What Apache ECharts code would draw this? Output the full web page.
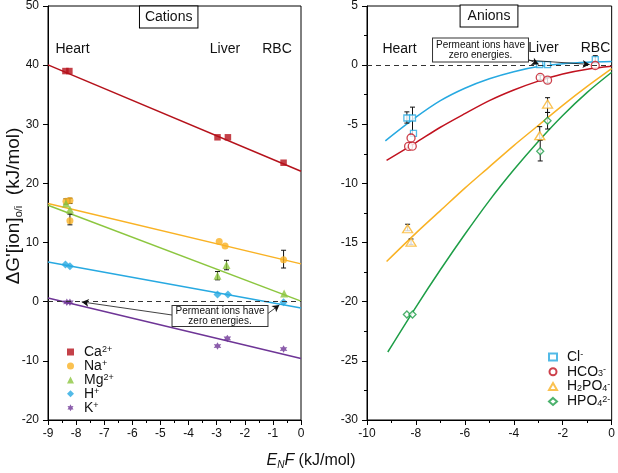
<!DOCTYPE html>
<html><head><meta charset="utf-8">
<script src="https://cdn.jsdelivr.net/npm/echarts@6/dist/echarts.min.js"></script>
<style>html,body{margin:0;padding:0;background:#fff}#c{width:618px;height:473px}</style>
</head><body><div id="c"></div>
<script>
// ---------- Cations (left panel) ----------
const caPts = [[-8.38,39.0],[-8.24,39.0],[-2.97,27.8],[-2.6,27.8],[-0.62,23.5]];
const naPts = [[-8.36,17.0],[-8.22,17.1],[-8.22,13.7],[-2.91,10.2],[-2.70,9.4],[-0.62,7.1]];
const mgPts = [[-8.36,16.6],[-8.22,15.6],[-2.97,4.4],[-2.65,6.2],[-0.6,1.4]];
const hPts  = [[-8.38,6.3],[-8.22,6.0],[-2.97,1.2],[-2.6,1.2],[-0.62,-0.1]];
const kPts  = [[-8.33,-0.1],[-8.22,-0.1],[-2.97,-7.5],[-2.62,-6.2],[-0.62,-8.0]];
const caFit = [[-9,40.05],[0,22.06]];
const naFit = [[-9,16.6],[0,6.4]];
const mgFit = [[-9,16.3],[0,0.1]];
const hFit  = [[-9,6.7],[0,-1.05]];
const kFit  = [[-9,0.64],[0,-9.6]];
const cationErr = [[-8.36,16.5,17.4],[-8.22,16.6,17.5],[-8.22,13.0,14.8],[-2.97,3.7,5.1],[-2.65,5.4,7.0],[-0.62,5.7,8.7]];
const cationArrows = [[[-4.54,-2.28],[-7.80,-0.03]],[[-1.18,-2.0],[-0.77,-0.55]]];
// ---------- Anions (right panel) ----------
const clPts    = [[-8.37,-4.47],[-8.14,-4.47],[-8.1,-5.77],[-2.94,0.05],[-2.62,0.05],[-0.67,0.47]];
const hco3Pts  = [[-8.3,-6.87],[-8.15,-6.85],[-8.2,-6.16],[-2.92,-1.04],[-2.62,-1.27],[-0.67,-0.03]];
const h2po4Pts = [[-8.34,-13.83],[-8.2,-14.96],[-2.94,-5.96],[-2.62,-3.29]];
const hpo4Pts  = [[-8.37,-21.08],[-8.14,-21.08],[-2.92,-7.28],[-2.62,-4.70]];
const clFit    = [[-9.25,-6.4],[-8,-4.4],[-7,-3.0],[-6,-1.95],[-5,-1.15],[-4,-0.55],[-3,-0.12],[-2,0.12],[-1,0.25],[0,0.3]];
const hco3Fit  = [[-9.2,-8.05],[-8,-6.55],[-7,-5.25],[-6,-4.1],[-5,-3.0],[-4,-2.1],[-3,-1.35],[-2,-0.75],[-1,-0.35],[0,-0.1]];
const h2po4Fit = [[-9.2,-16.6],[-8,-14.2],[-7,-12.3],[-6,-10.4],[-5,-8.6],[-4,-6.8],[-3,-5.1],[-2,-3.4],[-1,-1.8],[0,-0.3]];
const hpo4Fit  = [[-9.15,-24.25],[-8,-20.45],[-7,-17.3],[-6,-14.3],[-5,-11.45],[-4,-8.85],[-3,-6.45],[-2,-4.25],[-1,-2.3],[0,-0.6]];
const anionErr = [[-8.37,-4.9,-3.95],[-8.14,-6.0,-3.55],[-8.34,-14.0,-13.45],[-8.2,-15.15,-14.7],[-2.94,-6.3,-5.2],[-2.62,-4.0,-2.75],[-2.92,-8.1,-6.35],[-2.62,-5.4,-4.0],[-0.67,0.2,0.8],[-2.92,-1.25,-0.85],[-2.62,-1.5,-1.05]];
const anionArrows = [[[-3.45,0.5],[-2.98,0.08]],[[-3.45,0.42],[-0.9,0.06]]];
// ---------- labels ----------
const cationNames = ['Ca2+','Na+','Mg2+','H+','K+'];
const anionNames = ['Cl-','HCO3-','H2PO4-','HPO42-'];
const richNames = {
  'Ca2+':'{b|Ca}{sup|2+}','Na+':'{b|Na}{sup|+}','Mg2+':'{b|Mg}{sup|2+}','H+':'{b|H}{sup|+}','K+':'{b|K}{sup|+}',
  'Cl-':'{b|Cl}{sup|-}','HCO3-':'{b|HCO}{sub|3}{sup|-}','H2PO4-':'{b|H}{sub|2}{b|PO}{sub|4}{sup|-}','HPO42-':'{b|HPO}{sub|4}{sup|2-}'
};
const leftTicksX = [-9,0,1];
const rightTicksX = [-10,0,2];

const FONT = '"Liberation Sans", Arial, Helvetica, sans-serif';
const STAR = 'path://M0 -10 L2.75 -4.76 L8.66 -5 L5.5 0 L8.66 5 L2.75 4.76 L0 10 L-2.75 4.76 L-8.66 5 L-5.5 0 L-8.66 -5 L-2.75 -4.76 Z';

const chart = echarts.init(document.getElementById('c'), null, {renderer:'canvas'});

function errRender(params, api){
  const x = api.value(0), lo = api.value(1), hi = api.value(2);
  const p1 = api.coord([x, hi]), p2 = api.coord([x, lo]);
  const w = 2.5, st = {stroke:'#111', lineWidth:1};
  return {type:'group', children:[
    {type:'line', shape:{x1:p1[0],y1:p1[1],x2:p2[0],y2:p2[1]}, style:st},
    {type:'line', shape:{x1:p1[0]-w,y1:p1[1],x2:p1[0]+w,y2:p1[1]}, style:st},
    {type:'line', shape:{x1:p2[0]-w,y1:p2[1],x2:p2[0]+w,y2:p2[1]}, style:st}
  ]};
}
function fitLine(data, color, gi){
  return {type:'line', data:data, xAxisIndex:gi, yAxisIndex:gi, showSymbol:false, symbol:'none', smooth:gi===1?0.3:false,
    lineStyle:{color:color, width:1.5}, silent:true, z:2};
}
function scat(name, data, gi, symbol, size, color, hollow){
  return {type:'scatter', name:name, data:data, xAxisIndex:gi, yAxisIndex:gi, symbol:symbol, symbolSize:size,
    itemStyle: hollow ? {color:'#fff', borderColor:color, borderWidth:1.3} : {color:color},
    z:4};
}
function arrowSeries(arr, gi){
  return {type:'line', data:[], xAxisIndex:gi, yAxisIndex:gi, silent:true,
    markLine:{silent:true, symbol:['none','arrow'], symbolSize:[6,7], animation:false,
      lineStyle:{color:'#111', width:0.8, type:'solid'}, label:{show:false},
      data: arr.map(a => [{coord:a[0]},{coord:a[1]}])}};
}
function zeroLine(gi){
  return {type:'line', data:[], xAxisIndex:gi, yAxisIndex:gi, silent:true,
    markLine:{silent:true, symbol:['none','none'], animation:false, label:{show:false},
      lineStyle:{color:'#333', width:1, type:[5,4]}, data:[{yAxis:0}]}};
}
const axisCommon = {
  axisLine:{show:true, onZero:false, lineStyle:{color:'#000', width:1}},
  axisTick:{show:true, inside:false, length:5, lineStyle:{color:'#000'}},
  minorTick:{show:true, splitNumber:2, length:3, lineStyle:{color:'#000'}},
  splitLine:{show:false}, minorSplitLine:{show:false},
  axisLabel:{color:'#111', fontSize:12, fontFamily:FONT}
};
const legendRich = {
  b:{fontSize:14, fontFamily:FONT, color:'#111', lineHeight:13, verticalAlign:'middle'},
  sup:{fontSize:9, fontFamily:FONT, color:'#111', lineHeight:8, verticalAlign:'top'},
  sub:{fontSize:9, fontFamily:FONT, color:'#111', lineHeight:8, verticalAlign:'bottom'}
};

const option = {
  animation:false,
  backgroundColor:'#fff',
  textStyle:{fontFamily:FONT},
  grid:[
    {left:48, right:317, top:5, bottom:53, show:true, borderColor:'#000', borderWidth:1, backgroundColor:'transparent'},
    {left:367, right:3, top:5, bottom:53, show:true, borderColor:'#000', borderWidth:1, backgroundColor:'transparent'}
  ],
  xAxis:[
    Object.assign({type:'value', gridIndex:0, min:leftTicksX[0], max:leftTicksX[1], interval:leftTicksX[2]}, axisCommon,
      {axisLabel:Object.assign({}, axisCommon.axisLabel, {margin:8})}),
    Object.assign({type:'value', gridIndex:1, min:rightTicksX[0], max:rightTicksX[1], interval:rightTicksX[2]}, axisCommon,
      {axisLabel:Object.assign({}, axisCommon.axisLabel, {margin:8})})
  ],
  yAxis:[
    Object.assign({type:'value', gridIndex:0, min:-20, max:50, interval:10}, axisCommon,
      {minorTick:{show:false}, axisLabel:Object.assign({}, axisCommon.axisLabel, {margin:9})}),
    Object.assign({type:'value', gridIndex:1, min:-30, max:5, interval:5}, axisCommon,
      {axisLabel:Object.assign({}, axisCommon.axisLabel, {margin:9})})
  ],
  legend:[
    {data:cationNames, orient:'vertical', left:62, top:340, itemWidth:7, itemHeight:7, itemGap:-0.05,
      formatter:n => richNames[n], textStyle:{padding:[0,0,0,5], rich:legendRich}},
    {data:anionNames, orient:'vertical', left:543, top:345, itemWidth:8, itemHeight:7, itemGap:0.8,
      formatter:n => richNames[n], textStyle:{padding:[0,0,0,5], rich:legendRich}}
  ],
  series:[
    zeroLine(0), zeroLine(1),
    fitLine(caFit,'#B5121B',0), fitLine(naFit,'#F9B224',0), fitLine(mgFit,'#8CC63F',0),
    fitLine(hFit,'#27A9E1',0), fitLine(kFit,'#6E3596',0),
    fitLine(clFit,'#27A9E1',1), fitLine(hco3Fit,'#C1121F',1), fitLine(h2po4Fit,'#F9B224',1), fitLine(hpo4Fit,'#1E9E47',1),
    {type:'custom', xAxisIndex:0, yAxisIndex:0, data:cationErr, renderItem:errRender, silent:true, z:3},
    {type:'custom', xAxisIndex:1, yAxisIndex:1, data:anionErr, renderItem:errRender, silent:true, z:3},
    scat('Ca2+', caPts, 0, 'rect', 6.5, '#B5121B'),
    scat('Na+', naPts, 0, 'circle', 7, '#F9B224'),
    scat('Mg2+', mgPts, 0, 'triangle', 8, '#8CC63F'),
    scat('H+', hPts, 0, 'diamond', 8, '#27A9E1'),
    scat('K+', kPts, 0, STAR, 7.5, '#6E3596'),
    scat('Cl-', clPts, 1, 'rect', 6, '#27A9E1', true),
    scat('HCO3-', hco3Pts, 1, 'circle', 8, '#C1121F', true),
    scat('H2PO4-', h2po4Pts, 1, 'triangle', [10,8], '#F9B224', true),
    scat('HPO42-', hpo4Pts, 1, 'diamond', 7, '#1E9E47', true),
    arrowSeries(cationArrows, 0), arrowSeries(anionArrows, 1)
  ],
  graphic:[
    {type:'text', x:168.7, y:17, z:10, style:{text:'Cations', font:'14px '+FONT, fill:'#111', align:'center', verticalAlign:'middle',
      backgroundColor:'#fff', borderColor:'#000', borderWidth:1, padding:[3,5], lineHeight:15}},
    {type:'text', x:489, y:16, z:10, style:{text:'Anions', font:'14px '+FONT, fill:'#111', align:'center', verticalAlign:'middle',
      backgroundColor:'#fff', borderColor:'#000', borderWidth:1, padding:[3,7], lineHeight:15}},
    {type:'text', x:72.5, y:49, style:{text:'Heart', font:'14px '+FONT, fill:'#111', align:'center', verticalAlign:'middle'}},
    {type:'text', x:225, y:49, style:{text:'Liver', font:'14px '+FONT, fill:'#111', align:'center', verticalAlign:'middle'}},
    {type:'text', x:277, y:49, style:{text:'RBC', font:'14px '+FONT, fill:'#111', align:'center', verticalAlign:'middle'}},
    {type:'text', x:399.5, y:49, style:{text:'Heart', font:'14px '+FONT, fill:'#111', align:'center', verticalAlign:'middle'}},
    {type:'text', x:543.5, y:48, z:10, style:{text:'Liver', font:'14px '+FONT, fill:'#111', align:'center', verticalAlign:'middle'}},
    {type:'text', x:595.5, y:48, z:10, style:{text:'RBC', font:'14px '+FONT, fill:'#111', align:'center', verticalAlign:'middle'}},
    {type:'text', x:220, y:316, z:10, style:{text:'Permeant ions have\nzero energies.', font:'10px '+FONT, fill:'#111', align:'center', verticalAlign:'middle',
      backgroundColor:'#fff', borderColor:'#333', borderWidth:1, padding:[0.5,3], lineHeight:9.5}},
    {type:'text', x:480.5, y:50, z:10, style:{text:'Permeant ions have\nzero energies.', font:'10px '+FONT, fill:'#111', align:'center', verticalAlign:'middle',
      backgroundColor:'#fff', borderColor:'#333', borderWidth:1, padding:[1,3], lineHeight:10.5}},
    {type:'text', x:311, y:461, style:{text:'{i|E}{isub|N}{i|F}{n| (kJ/mol)}', align:'center', verticalAlign:'middle',
      rich:{i:{fontSize:16, fontStyle:'italic', fontFamily:FONT, fill:'#111', lineHeight:18},
            isub:{fontSize:10, fontStyle:'italic', fontFamily:FONT, fill:'#111', lineHeight:8, verticalAlign:'bottom'},
            n:{fontSize:16, fontFamily:FONT, fill:'#111', lineHeight:18}}}},
    {type:'text', x:14, y:206, rotation:Math.PI/2, style:{text:"{n|ΔG'[ion]}{sub|o/i}{n|  (kJ/mol)}", align:'center', verticalAlign:'middle',
      rich:{n:{fontSize:19, fontFamily:FONT, fill:'#111', lineHeight:21},
            sub:{fontSize:11, fontFamily:FONT, fill:'#111', lineHeight:9, verticalAlign:'bottom'}}}}
  ]
};
chart.setOption(option);
</script></body></html>
